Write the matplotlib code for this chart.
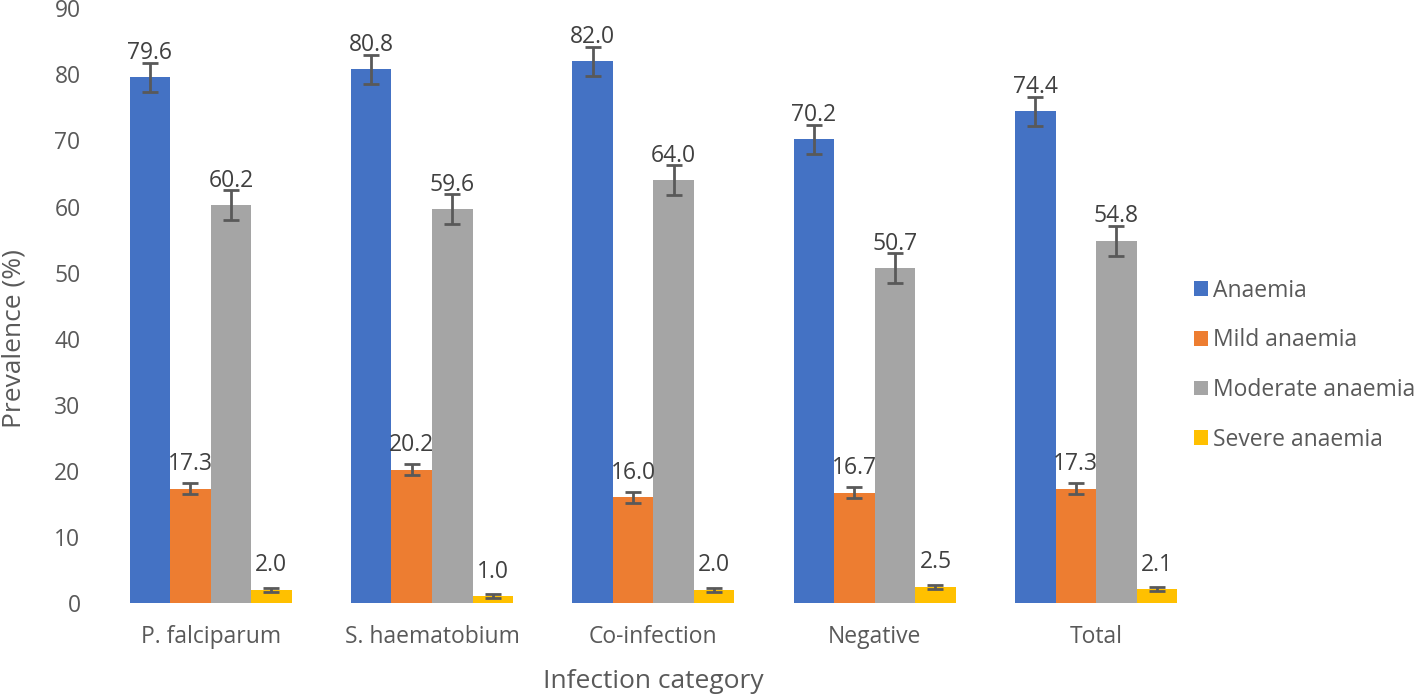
import matplotlib
matplotlib.use("Agg")
import matplotlib.pyplot as plt
import numpy as np

categories = ["P. falciparum", "S. haematobium", "Co-infection", "Negative", "Total"]
series_names = ["Anaemia", "Mild anaemia", "Moderate anaemia", "Severe anaemia"]
anaemia = [79.6, 80.8, 82.0, 70.2, 74.4]
mild = [17.3, 20.2, 16.0, 16.7, 17.3]
moderate = [60.2, 59.6, 64.0, 50.7, 54.8]
severe = [2.0, 1.0, 2.0, 2.5, 2.1]
anaemia_err = [2.2, 2.2, 2.2, 2.2, 2.2]
mild_err = [0.8, 0.8, 0.8, 0.8, 0.8]
moderate_err = [2.3, 2.3, 2.3, 2.3, 2.3]
severe_err = [0.3, 0.3, 0.3, 0.3, 0.3]
y_ticks = [0, 10, 20, 30, 40, 50, 60, 70, 80, 90]

colors = ["#4472C4", "#ED7D31", "#A5A5A5", "#FFC000"]
plt.rcParams['font.family'] = ['Open Sans', 'DejaVu Sans']

fig = plt.figure(figsize=(14.18, 6.94), dpi=100)
ax = fig.add_axes([0.0705, 0.131, 0.7805, 0.857])

x = np.arange(len(categories))
w = 0.183
data = [anaemia, mild, moderate, severe]
errs = [anaemia_err, mild_err, moderate_err, severe_err]
for i, (vals, err) in enumerate(zip(data, errs)):
    pos = x + (i - 1.5) * w
    ax.bar(pos, vals, w, color=colors[i], label=series_names[i],
           yerr=err, error_kw=dict(ecolor="#595959", elinewidth=2, capsize=6, capthick=2))
    for p, v in zip(pos, vals):
        ax.annotate(f"{v:.1f}", (p, v), xytext=(0, 9), textcoords="offset points",
                    ha="center", va="bottom", fontsize=16.5, color="#404040")

ax.set_xlim(-0.5, len(categories) - 0.5)
ax.set_ylim(0, 90)
ax.set_yticks(y_ticks)
ax.set_xticks(x)
ax.set_xticklabels(categories)
for s in ax.spines.values():
    s.set_visible(False)
ax.tick_params(axis="both", length=0, labelsize=16.5, colors="#595959")
ax.tick_params(axis="x", pad=16)
ax.tick_params(axis="y", pad=14)
ax.set_ylabel("Prevalence (%)", fontsize=19, color="#595959")
ax.yaxis.set_label_coords(-0.066, 0.444)
ax.set_xlabel("Infection category", fontsize=19, color="#595959", labelpad=14)

leg = ax.legend(loc="center left", bbox_to_anchor=(0.970, 0.40), frameon=False,
                fontsize=16.5, handlelength=0.6, handleheight=0.6, handletextpad=0.22,
                labelspacing=1.12, labelcolor="#595959")

fig.savefig("out.png", dpi=100)
